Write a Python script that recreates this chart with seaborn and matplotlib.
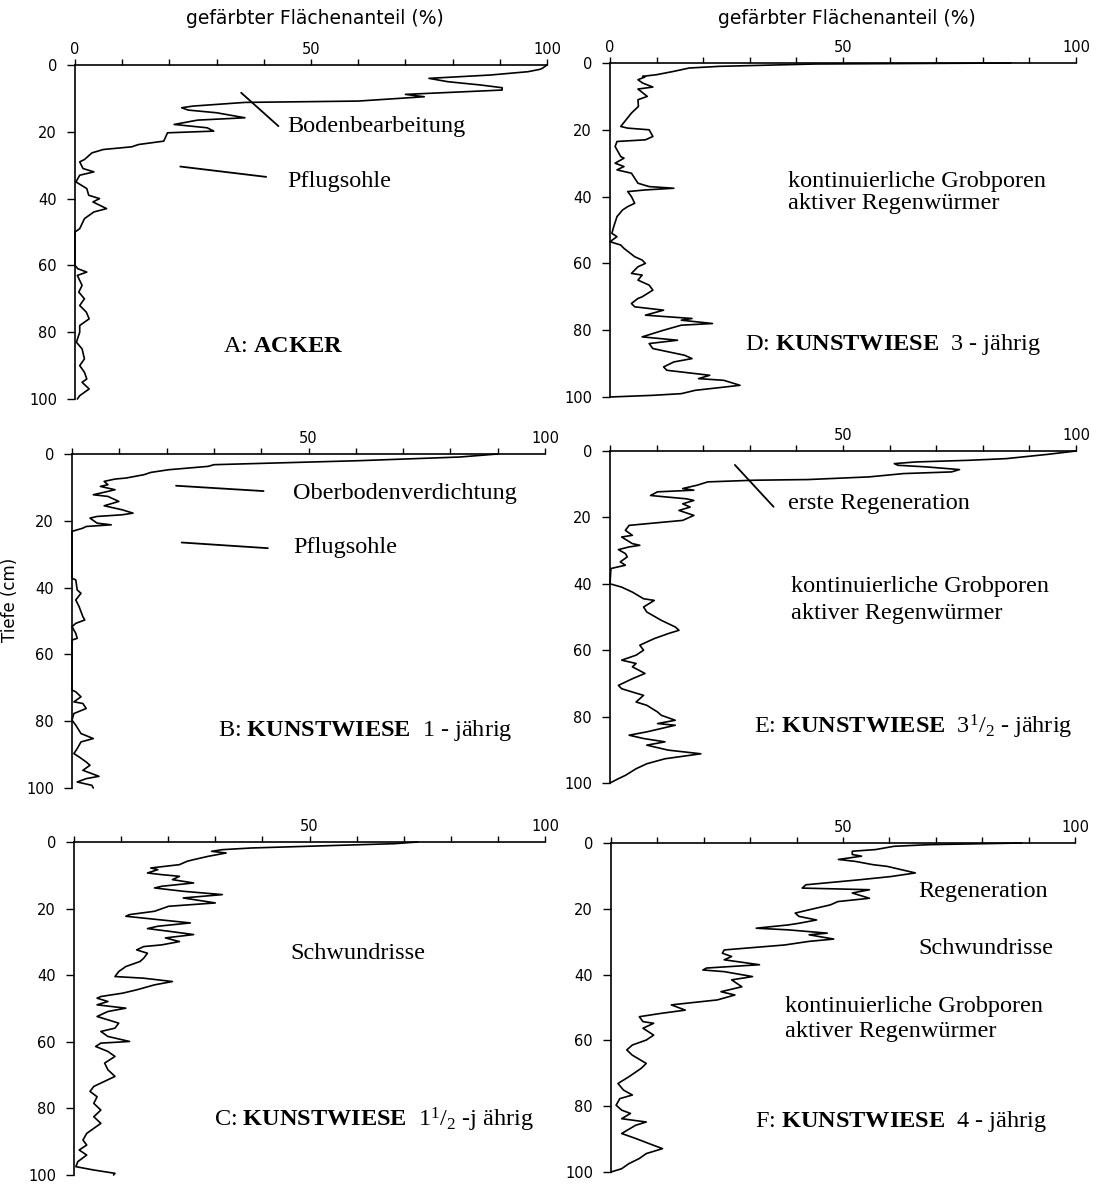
import matplotlib
matplotlib.use("Agg")
import matplotlib.pyplot as plt
import seaborn as sns
import pandas as pd

sns.set_theme(style="white")
plt.rcParams["font.family"] = ["DejaVu Sans"]
plt.rcParams["mathtext.fontset"] = "custom"
plt.rcParams["mathtext.rm"] = "Liberation Serif"
plt.rcParams["mathtext.bf"] = "Liberation Serif:bold"
plt.rcParams["mathtext.it"] = "Liberation Serif:italic"

# ---------------- data (depth in cm, stained area share in %) ----------------
depth_a = [0, 1, 1.3, 2, 3, 4, 5, 6, 6.8, 7.5, 8.8, 9.5, 10.8, 11.2, 12.3, 12.8, 13.5, 14.3,
           15.8, 16.5, 17.8, 18.8, 19.8, 20.3, 22.8, 23.8, 24.5, 25.3, 26.3, 28.3, 29, 31, 32,
           33, 35, 37, 39, 40, 41, 43, 44, 46, 49, 50, 60, 61, 62, 63, 66, 68, 70, 72, 74, 76,
           78, 80, 83, 85, 88, 90, 92, 94, 95, 97, 99, 100]
value_a = [100, 99, 98.5, 96, 88, 75, 79, 86, 90.5, 90.5, 70, 74, 60, 36, 25, 22.6, 24, 30,
           36, 26, 21, 28, 29.4, 19.6, 18.8, 13.5, 12, 6, 3.6, 2, 1, 1.7, 4,
           1, 0.2, 2.5, 2.9, 5.2, 3.8, 6.7, 4, 2, 1, 0, 0, 0.6, 2.5, 0.5, 1.5, 0.8, 2, 1, 2.4, 3,
           1, 1, 0.3, 1.5, 2, 1, 2, 2.5, 1.5, 3, 1, 0.5]

depth_b = [0, 0.9, 2, 3.2, 3.7, 4.7, 5.5, 6.2, 7.2, 7.5, 8.2, 9.2, 9.7, 10.7, 12.2, 12.7, 14.2,
           15.5, 16.7, 17.7, 18.2, 18.7, 19.2, 20.7, 21.2, 21.7, 22.2, 23, 23.2, 37.2, 37.7,
           40.7, 41.7, 43.7, 45.7, 48.7, 49.7, 50.7, 51.7, 53.7, 55.2, 55.7, 70.7, 71.2, 72.7,
           74.2, 74.7, 76.2, 77.7, 79.7, 81.2, 83.7, 85.2, 86.2, 88.2, 89.7, 90.7, 92.2, 93.2,
           94.7, 96.5, 97.2, 98.2, 99.2, 100]
value_b = [90, 82, 60.7, 30, 28.8, 20.5, 16.7, 15.2, 11.4, 9.1, 6.8, 7.6, 6, 9.1, 4.5, 7.6, 9.9,
           6.8, 10.6, 12.9, 10.6, 5.3, 3.8, 5.3, 8.3, 3, 2.3, 0.4, 0, 0, 0.8,
           1.1, 1.9, 0.8, 1.5, 2.3, 2.7, 0.8, 0, 0.8, 1.1, 0, 0, 0.8, 1.9,
           0.4, 2.3, 3, 0.4, 0, 0.8, 1.9, 4.5, 1.9, 1.1, 0.4, 1.5, 3, 3.8,
           2.3, 5.7, 3, 1.1, 4.2, 4.5]

depth_c = [0, 0.5, 1.8, 2.3, 2.8, 3.3, 4.3, 5.3, 5.8, 6.8, 7.8, 8.3, 9.3, 9.8, 10.3, 11.3, 12.3,
           13.3, 13.8, 14.8, 15.8, 16.8, 18.3, 19.3, 20.8, 21.8, 22.3, 23.3, 24.3, 25.3, 26,
           26.8, 27.8, 28.8, 29.9, 30.9, 31.4, 32.4, 33.4, 34.9, 35.9, 37.4, 38.9, 40.4, 40.9,
           41.9, 42.9, 44.4, 45.4, 46.4, 46.9, 47.9, 48.9, 49.9, 50.9, 52.4, 53.4, 54.4, 55.9,
           56.9, 58.4, 59.9, 60.4, 61.4, 62.9, 64.4, 66.4, 68.4, 70.4, 71.4, 73.4, 74.9, 76.5,
           78.5, 80.5, 82.5, 84.5, 86, 87.5, 89.5, 91, 92.5, 94, 96, 97.5, 98.5, 99.5, 100]
value_c = [73, 68, 37.6, 31.5, 29.2, 32.3, 28.5, 25.4, 24, 22.4, 16.3, 17.8, 15.6, 18.6, 22.4,
           20.9, 25.4, 18.6, 17.1, 23.2, 31.5, 23.2, 30, 20.1, 17.1, 11.8, 11, 17.8, 24.7, 17.8,
           15.6, 20.1, 25.4, 19.4, 22.4, 18.6, 14.8, 13.3, 15.6, 14.8, 14, 11, 9.5, 8.7, 14.8,
           20.9, 17.1, 13.3, 10.3, 5.7, 4.9, 7.2, 4.9, 11, 7.2, 4.9, 7.2, 9.5, 8.7,
           5.7, 7.2, 11.8, 5.7, 4.6, 7.2, 8.7, 6.5, 7.2, 8.7, 7.2, 4.2, 3.4, 4.9,
           4.2, 5.7, 4.2, 5.7, 4.2, 2.7, 1.9, 2.7, 1.1, 2.7, 0.8, 0.4, 4.2, 8.7, 8.4]

depth_d = [0, 0.3, 1, 1.5, 2.5, 3.5, 4, 4.2, 5, 6, 7.2, 7.8, 10, 11, 13, 15, 19, 19.5, 20, 22,
           23, 23.5, 25, 28, 28.5, 30, 31, 32, 33, 36, 37, 37.5, 38, 38.5, 40, 42, 43, 44, 46,
           49, 51, 52, 53.5, 54.5, 55.5, 58, 59, 60, 61, 63, 63.5, 65, 66.5, 68, 70, 70.5, 72,
           73, 74, 75.5, 76.5, 77, 78, 78.5, 80, 82, 83, 84, 85.5, 87.5, 88.5, 89.5, 91, 92,
           93.5, 94.5, 95, 96.5, 98, 99, 99.5, 100]
value_d = [86, 44, 23.5, 17, 13.7, 10, 7, 7.5, 6, 7, 9.2, 6, 8, 6, 6.1, 4.6, 2.3, 3.8, 8.4, 9.2,
           7.6, 1.5, 1.1, 2.3, 3, 1.1, 3, 1.5, 4.6, 6, 8.4, 13.7, 7.6, 3.8, 4.6, 5.3, 3.8, 2.7, 1.5,
           0.8, 0.4, 1.5, 0, 2.3, 3, 5.3, 6.9, 7.6, 6, 4.6, 6.9, 6, 8.4, 9.2, 6.9, 6, 4.6,
           5.3, 11.5, 7.6, 17.6, 15.3, 22, 15.3, 11.5, 6.9, 14.5, 8.4, 9.2, 16, 17.6, 13.7, 11.5, 12.2,
           21.4, 19, 24.4, 27.9, 18.3, 15.3, 9.2, 0]

depth_e = [0, 1, 2.3, 2.8, 3.3, 3.8, 4.3, 4.8, 5.6, 6.3, 6.8, 7.8, 8.6, 8.8, 9.3, 10.3, 11.3,
           11.8, 12.3, 13.4, 13.9, 14.4, 14.9, 15.9, 16.9, 17.9, 19.4, 20.9, 21.9, 22.4, 23.9,
           25.4, 25.9, 27.9, 28.4, 28.9, 29.7, 30.9, 31.9, 33.4, 34.4, 35.4, 40, 41, 42.5, 44.5,
           45, 47, 48.5, 51, 53, 54, 55, 56.5, 58.5, 60, 61.5, 63, 64, 65, 67, 68.6, 70.6, 71.6,
           72.6, 73.6, 75.6, 76.6, 78.6, 79.6, 81.1, 82.1, 82.6, 84.6, 85.6, 86.6, 87.6, 88.6,
           90.1, 91.2, 92.7, 94.2, 95.7, 97.7, 98.7, 100]
value_e = [100, 94, 85, 77, 65.6, 61, 61.8, 68, 75, 73.3, 63, 55.6, 42.5, 31, 21, 18.7, 15.6,
           18, 10.2, 8.7, 12.5, 16.4, 18, 15.6, 17.2, 14.8, 18, 15.6, 7.9, 4.1, 3.3,
           4.8, 2.5, 4.8, 6.4, 4.1, 1.8, 3.3, 3.7, 2.2, 3.3, 0.2, 0, 2.5, 4.8, 7.2,
           9.5, 7.2, 7.9, 11, 14, 14.8, 12.5, 9.5, 6.4, 7.2, 5.6, 2.5, 5.6, 4.8, 7.5, 4.8, 1.8, 2.5,
           4.8, 7.2, 5.6, 7.9, 10.2, 11, 14, 10.2, 14, 7.9, 4.1, 7.2, 11.8, 7.9,
           12.5, 19.5, 11.8, 7.9, 5.6, 3.3, 1.8, 0]

depth_f = [0, 0.5, 1, 2, 2.5, 3.5, 4, 5, 5.6, 6.6, 7.1, 9.1, 10.2, 11.2, 12.7, 13.7, 14.2, 15.2,
           16.8, 17.8, 18.8, 20.3, 21.3, 22.3, 23.4, 24.4, 24.9, 25.9, 26.4, 27.4, 27.9, 29.2,
           29.9, 31, 32.5, 33.5, 34.5, 35.5, 37, 38, 38.6, 39.1, 40.6, 41.6, 43.7, 45.2, 46.2,
           47.7, 49.2, 50.8, 51.8, 52.8, 54.3, 54.8, 56.3, 58.4, 59.9, 61.4, 62.9, 64.5, 67,
           68.5, 71.1, 73.1, 75.1, 76.6, 77.7, 79.7, 81.2, 82.2, 83.8, 84.8, 85.8, 88.3, 89.8,
           91.9, 92.9, 94.4, 95.9, 97.5, 99, 100]
value_f = [88.5, 68.7, 61, 57, 52, 52, 54, 49, 52.7, 56.5, 59.5, 65.6, 60.3, 53.4, 42, 41.2, 55.7, 52,
           55.7, 48.9, 47.3, 42.7, 39.7, 40.5, 44.3, 40.5, 38.2, 31.3, 38.2, 46.6, 42.7, 48,
           42.7, 37.4, 24.4, 24, 26, 24.4, 32, 20.6, 19.8, 24.4, 30.5, 26, 28.2, 23.7, 26.7,
           22.9, 13, 16, 10.7, 6.1, 6.9, 9.2, 6.9, 9.2, 7.6, 4.6, 3.4, 4.6, 7.6,
           6.5, 3.8, 1.5, 2.7, 4.6, 1.9, 1.1, 2.3, 4.2, 2.3, 7.6, 5.3, 2.3, 5.3,
           9.2, 11.1, 7.6, 6.1, 3.8, 2.3, 0]

x_ticks = [0, 10, 20, 30, 40, 50, 60, 70, 80, 90, 100]
x_ticklabels_full = ["0", "", "", "", "", "50", "", "", "", "", "100"]
x_ticklabels_nozero = ["", "", "", "", "", "50", "", "", "", "", "100"]
y_ticks = [0, 20, 40, 60, 80, 100]
y_ticklabels = ["0", "20", "40", "60", "80", "100"]

col_title = "gefärbter Flächenanteil (%)"
y_title = "Tiefe (cm)"

# ---------------- layout ----------------
W, H = 1096, 1184
fig = plt.figure(figsize=(W / 100, H / 100), dpi=100)
fig.patch.set_facecolor("white")

def px_axes(x0, x1, y0, y1):
    return [x0 / W, 1 - y1 / H, (x1 - x0) / W, (y1 - y0) / H]

serif = "Liberation Serif"
fs_ann = 17.5
fs_tick = 10.5

panels = {
    "A": dict(rect=px_axes(75, 547, 65, 399), depth=depth_a, value=value_a, xl=x_ticklabels_full,
              texts=[(45, 18.4, "Bodenbearbeitung"), (45, 35, "Pflugsohle"),
                     (31.4, 84.4, r"A: $\mathbf{ACKER}$")],
              pointers=[((35.2, 8.3), (43.1, 18.3)), ((22.3, 30.4), (40.5, 33.5))]),
    "D": dict(rect=px_axes(610, 1076, 63, 397), depth=depth_d, value=value_d, xl=x_ticklabels_full,
              texts=[(38.2, 35.6, "kontinuierliche Grobporen"), (38.2, 42.2, "aktiver Regenwürmer"),
                     (29, 84.4, r"D: $\mathbf{KUNSTWIESE}$  3 - jährig")],
              pointers=[]),
    "B": dict(rect=px_axes(72, 545, 454, 788), depth=depth_b, value=value_b, xl=x_ticklabels_nozero,
              texts=[(46.7, 11.8, "Oberbodenverdichtung"), (46.7, 28.1, "Pflugsohle"),
                     (30.8, 82.9, r"B: $\mathbf{KUNSTWIESE}$  1 - jährig")],
              pointers=[((22, 9.5), (40.5, 11.1)), ((23.2, 26.5), (41.4, 28.2))]),
    "E": dict(rect=px_axes(610, 1076, 451, 783), depth=depth_e, value=value_e, xl=x_ticklabels_nozero,
              texts=[(38.2, 15.8, "erste Regeneration"), (38.8, 40.9, "kontinuierliche Grobporen"),
                     (38.8, 48.9, "aktiver Regenwürmer"),
                     (30.8, 83.1, r"E: $\mathbf{KUNSTWIESE}$  $3^{1}/_{2}$ - jährig")],
              pointers=[((26.8, 4.2), (35.1, 16.8))]),
    "C": dict(rect=px_axes(74, 545, 842, 1175), depth=depth_c, value=value_c, xl=x_ticklabels_nozero,
              texts=[(46, 33.4, "Schwundrisse"),
                     (29.7, 83.5, r"C: $\mathbf{KUNSTWIESE}$  $1^{1}/_{2}$ -j ährig")],
              pointers=[]),
    "F": dict(rect=px_axes(611, 1075, 843, 1172), depth=depth_f, value=value_f, xl=x_ticklabels_nozero,
              texts=[(66.2, 14.7, "Regeneration"), (66.2, 32, "Schwundrisse"),
                     (37.6, 49.7, "kontinuierliche Grobporen"), (37.6, 57.3, "aktiver Regenwürmer"),
                     (31, 84.7, r"F: $\mathbf{KUNSTWIESE}$  4 - jährig")],
              pointers=[]),
}

for key, p in panels.items():
    ax = fig.add_axes(p["rect"])
    ax.set_facecolor("white")
    df = pd.DataFrame({"Tiefe": p["depth"], "Anteil": p["value"]})
    sns.lineplot(data=df, x="Anteil", y="Tiefe", sort=False, estimator=None,
                 color="black", linewidth=1.2, ax=ax, clip_on=False)
    ax.set_xlim(0, 100)
    ax.set_ylim(100, 0)
    ax.xaxis.tick_top()
    ax.set_xticks(x_ticks)
    ax.set_xticklabels(p["xl"])
    ax.set_yticks(y_ticks)
    ax.set_yticklabels(y_ticklabels)
    ax.tick_params(axis="x", direction="out", length=4, width=1, colors="black",
                   labelsize=fs_tick, pad=2, top=True, bottom=False)
    ax.tick_params(axis="y", direction="out", length=6, width=1, colors="black",
                   labelsize=fs_tick, pad=7, left=True)
    ax.set_xlabel("")
    ax.set_ylabel("")
    for s in ["right", "bottom"]:
        ax.spines[s].set_visible(False)
    for s in ["top", "left"]:
        ax.spines[s].set_visible(True)
        ax.spines[s].set_color("black")
        ax.spines[s].set_linewidth(1.2)
    ax.grid(False)
    for (tx, ty, s) in p["texts"]:
        ax.text(tx, ty, s, fontsize=fs_ann, family=serif, ha="left", va="center", color="black")
    for (a, b) in p["pointers"]:
        ax.plot([a[0], b[0]], [a[1], b[1]], color="black", linewidth=1.3)

fig.text(315 / W, 1 - 18 / H, col_title, ha="center", va="center", fontsize=13.5, color="black")
fig.text(847 / W, 1 - 18 / H, col_title, ha="center", va="center", fontsize=13.5, color="black")
fig.text(10 / W, 1 - 600 / H, y_title, ha="center", va="center", rotation=90, fontsize=12,
         color="black")

fig.savefig("out.png", dpi=100, facecolor="white")
